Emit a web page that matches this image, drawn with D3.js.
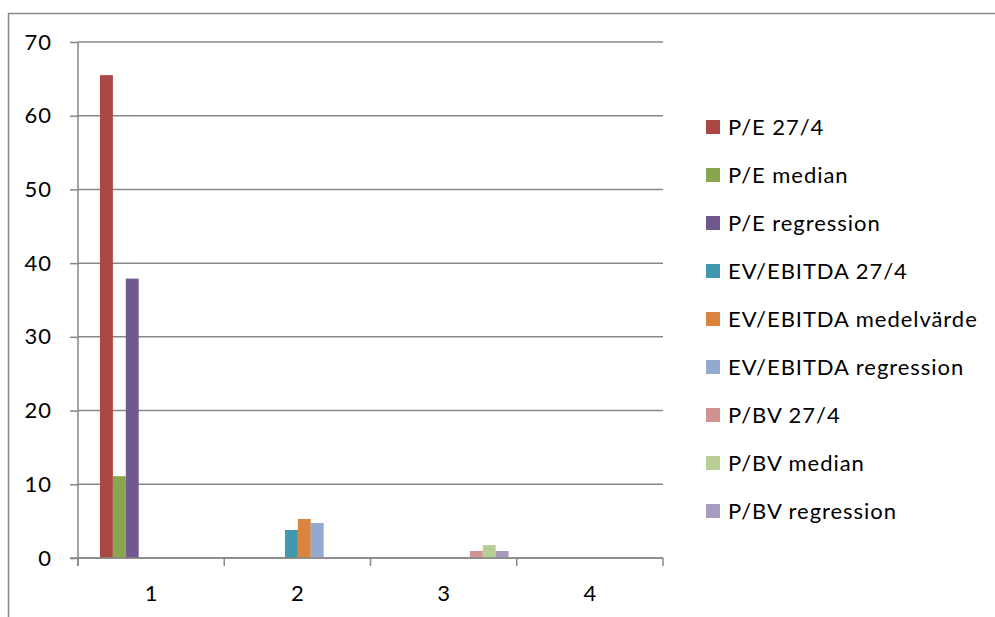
<!DOCTYPE html>
<html>
<head>
<meta charset="utf-8">
<script src="https://cdn.jsdelivr.net/npm/d3@7"></script>
<style>
  html, body { margin: 0; padding: 0; background: #fff; }
  svg { display: block; font-family: Lato, "Open Sans", sans-serif; }
</style>
</head>
<body>
<svg id="chart" width="995" height="617"></svg>
<script>
// Valuation multiples, grouped by category
const categories = ["1", "2", "3", "4"];
const seriesNames = [
  "P/E 27/4", "P/E median", "P/E regression",
  "EV/EBITDA 27/4", "EV/EBITDA medelvärde", "EV/EBITDA regression",
  "P/BV 27/4", "P/BV median", "P/BV regression"
];
const seriesColors = [
  "#AA4643", "#89A54E", "#71588F",
  "#4198AF", "#DB843D", "#93A9CF",
  "#D19392", "#B9CD96", "#A99BBD"
];
// one array per series, one value per category
const peSpot       = [65.5, 0, 0, 0];
const peMedian     = [11.1, 0, 0, 0];
const peRegression = [37.9, 0, 0, 0];
const evSpot       = [0, 3.8, 0, 0];
const evMean       = [0, 5.3, 0, 0];
const evRegression = [0, 4.75, 0, 0];
const pbvSpot       = [0, 0, 0.95, 0];
const pbvMedian     = [0, 0, 1.75, 0];
const pbvRegression = [0, 0, 0.95, 0];
const seriesValues = [peSpot, peMedian, peRegression, evSpot, evMean, evRegression, pbvSpot, pbvMedian, pbvRegression];
const yTicks = [0, 10, 20, 30, 40, 50, 60, 70];

const svg = d3.select("#chart");
const plot = { left: 78, right: 663, top: 42, bottom: 558 };
const gridColor = "#878787";
const fontSize = 22, letterSpacing = 0.95;

// outer frame
svg.append("rect")
  .attr("x", 8.5).attr("y", 13.5)
  .attr("width", 1000).attr("height", 700)
  .attr("fill", "none").attr("stroke", gridColor).attr("stroke-width", 1.5);

const y = d3.scaleLinear().domain([0, 70]).range([plot.bottom, plot.top]);
const x0 = d3.scaleBand().domain(categories).range([plot.left, plot.right]).padding(0);
const slot = 12.9, groupOffset = 22;
const x1 = d3.scaleBand().domain(seriesNames)
  .range([groupOffset, groupOffset + slot * seriesNames.length]).padding(0);

// horizontal gridlines
svg.append("g").selectAll("line").data(yTicks).join("line")
  .attr("x1", plot.left).attr("x2", plot.right)
  .attr("y1", d => y(d)).attr("y2", d => y(d))
  .attr("stroke", gridColor).attr("stroke-width", 1.5);

// y axis
const yAxis = svg.append("g")
  .attr("transform", `translate(${plot.left},0)`)
  .call(d3.axisLeft(y).tickValues(yTicks).tickSize(8).tickPadding(18).tickFormat(d3.format("d")));
yAxis.select(".domain").attr("stroke", gridColor).attr("stroke-width", 1.5)
  .attr("d", `M0,${plot.top}V${plot.bottom + 8}`);
yAxis.selectAll(".tick line").attr("stroke", gridColor).attr("stroke-width", 1.5);
yAxis.selectAll(".tick text").attr("font-size", fontSize).attr("fill", "#000")
  .attr("letter-spacing", letterSpacing)
  .attr("font-family", "Lato, sans-serif");

// bars
const groups = svg.append("g").selectAll("g").data(categories).join("g")
  .attr("transform", c => `translate(${x0(c)},0)`);
groups.selectAll("rect")
  .data((c, ci) => seriesNames.map((s, si) => ({ s, si, v: seriesValues[si][ci] })))
  .join("rect")
  .attr("x", d => x1(d.s))
  .attr("width", x1.bandwidth())
  .attr("y", d => y(d.v))
  .attr("height", d => y(0) - y(d.v))
  .attr("fill", d => seriesColors[d.si]);

// x axis baseline and category ticks
const xAxis = svg.append("g").attr("transform", `translate(0,${plot.bottom})`)
  .call(d3.axisBottom(x0).tickSize(0).tickPadding(27));
xAxis.select(".domain").remove();
xAxis.selectAll(".tick text").attr("font-size", fontSize).attr("fill", "#000")
  .attr("font-family", "Lato, sans-serif");
svg.append("line")
  .attr("x1", plot.left - 8).attr("x2", plot.right)
  .attr("y1", plot.bottom).attr("y2", plot.bottom)
  .attr("stroke", gridColor).attr("stroke-width", 1.5);
const boundaries = categories.map(c => x0(c) + x0.bandwidth()).concat([plot.left]);
svg.append("g").selectAll("line").data(boundaries).join("line")
  .attr("x1", d => d).attr("x2", d => d)
  .attr("y1", plot.bottom).attr("y2", plot.bottom + 8)
  .attr("stroke", gridColor).attr("stroke-width", 1.5);

// legend
const legend = svg.append("g").attr("transform", "translate(706,127)");
const rows = legend.selectAll("g").data(seriesNames).join("g")
  .attr("transform", (d, i) => `translate(0,${i * 48})`);
rows.append("rect")
  .attr("x", 0).attr("y", -7).attr("width", 14).attr("height", 14)
  .attr("fill", (d, i) => seriesColors[i]);
rows.append("text")
  .attr("x", 22).attr("y", 0).attr("dy", "0.35em")
  .attr("font-size", fontSize).attr("fill", "#000")
  .attr("letter-spacing", letterSpacing)
  .attr("font-family", "Lato, sans-serif")
  .text(d => d);
</script>
</body>
</html>
